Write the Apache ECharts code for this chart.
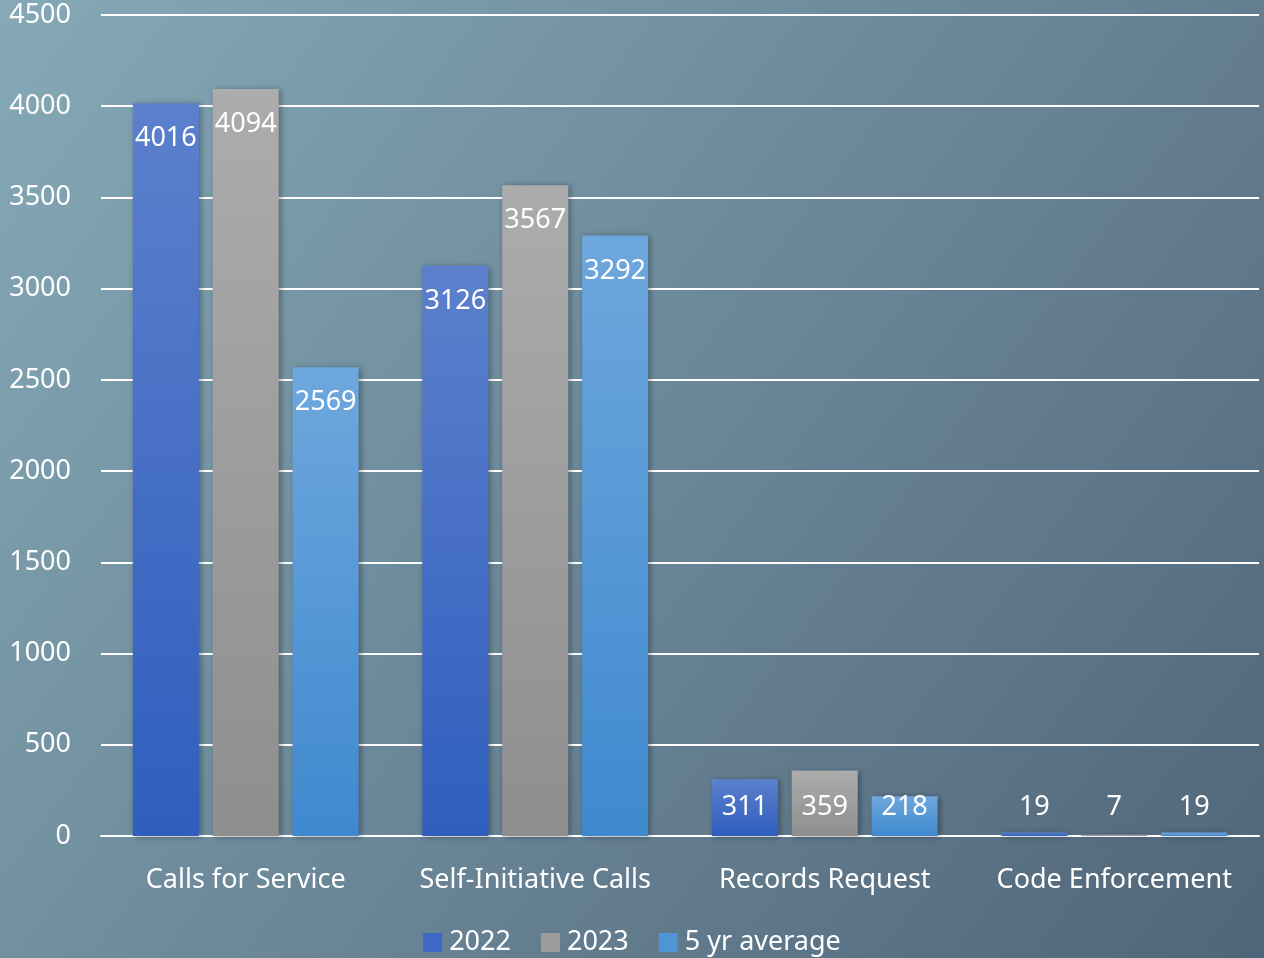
<!DOCTYPE html>
<html>
<head>
<meta charset="utf-8">
<script src="https://cdn.jsdelivr.net/npm/echarts@6/dist/echarts.min.js"></script>
<style>
html,body{margin:0;padding:0;}
#c{width:1264px;height:958px;}
</style>
</head>
<body>
<div id="c"></div>
<script>
var categories = ['Calls for Service', 'Self-Initiative Calls', 'Records Request', 'Code Enforcement'];
var values2022 = [4016, 3126, 311, 19];
var values2023 = [4094, 3567, 359, 7];
var valuesAvg = [2569, 3292, 218, 19];
var seriesNames = ['2022', '2023', '5 yr average'];

var FONT = 'Noto Sans';
var FS = 27;
function grad(top, bottom) {
  return new echarts.graphic.LinearGradient(0, 0, 0, 1, [
    {offset: 0, color: top}, {offset: 1, color: bottom}
  ]);
}
var colors = [grad('#5c80cc', '#2f5ebe'), grad('#acacac', '#8e8e8e'), grad('#6ea7dd', '#3f89cf')];
var legendColors = ['#3d69c4', '#9c9c9c', '#4e95d6'];

function mkData(vals) {
  return vals.map(function (v, i) {
    if (i >= 2) {
      return {value: v, label: {position: 'insideBottom', distance: 15}};
    }
    return v;
  });
}

function mkSeries(name, vals, idx) {
  return {
    name: name,
    type: 'bar',
    data: mkData(vals),
    barGap: '21%',
    barCategoryGap: '22%',
    itemStyle: {
      color: colors[idx],
      shadowBlur: 6,
      shadowColor: 'rgba(0,0,0,0.35)',
      shadowOffsetX: 2,
      shadowOffsetY: 1
    },
    label: {
      show: true,
      position: 'insideTop',
      distance: 22,
      color: '#ffffff',
      fontFamily: FONT,
      fontSize: FS
    }
  };
}

var chart = echarts.init(document.getElementById('c'));
chart.setOption({
  backgroundColor: new echarts.graphic.LinearGradient(0, 0, 1, 1, [
    {offset: 0, color: '#85a9b7'},
    {offset: 1, color: '#506579'}
  ]),
  animation: false,
  grid: {left: 101, right: 5, top: 15, bottom: 122},
  legend: {
    bottom: -3,
    left: 'center',
    itemWidth: 19,
    itemHeight: 19,
    itemGap: 30,
    icon: 'rect',
    textStyle: {color: '#ffffff', fontFamily: FONT, fontSize: FS, padding: [0, 0, 0, 2]},
    data: seriesNames.map(function (n, i) { return {name: n, itemStyle: {color: legendColors[i]}}; })
  },
  xAxis: {
    type: 'category',
    data: categories,
    axisLine: {show: true, lineStyle: {color: '#ffffff', width: 2}},
    axisTick: {show: false},
    axisLabel: {interval: 0, hideOverlap: false, color: '#ffffff', fontFamily: FONT, fontSize: FS, margin: 31}
  },
  yAxis: {
    type: 'value',
    min: 0,
    max: 4500,
    interval: 500,
    axisLine: {show: false},
    axisTick: {show: false},
    splitLine: {lineStyle: {color: '#ffffff', width: 2}},
    axisLabel: {color: '#ffffff', fontFamily: FONT, fontSize: FS, margin: 30, formatter: function (v) { return String(v); }}
  },
  series: [
    mkSeries(seriesNames[0], values2022, 0),
    mkSeries(seriesNames[1], values2023, 1),
    mkSeries(seriesNames[2], valuesAvg, 2)
  ]
});
</script>
</body>
</html>
